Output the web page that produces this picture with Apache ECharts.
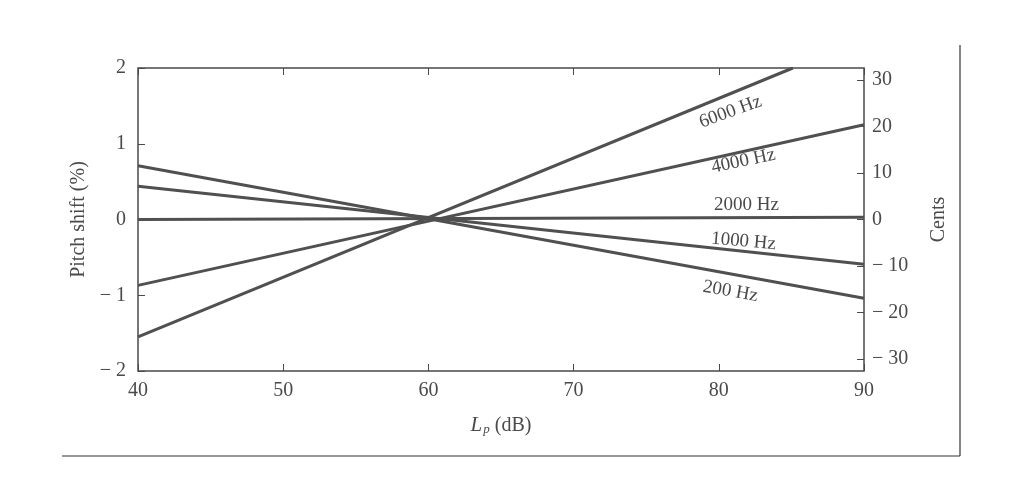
<!DOCTYPE html>
<html><head><meta charset="utf-8">
<script src="https://cdn.jsdelivr.net/npm/echarts@6/dist/echarts.min.js"></script>
<style>html,body{margin:0;background:#fff}#c{width:1024px;height:500px}</style>
</head><body><div id="c"></div>
<script>
const xTicks=[40,50,60,70,80,90];
const yTicks=[-2,-1,0,1,2];
const centTicks=[-30,-20,-10,0,10,20,30];
const line200=[[40,0.71],[90,-1.04]];
const line1000=[[40,0.44],[90,-0.59]];
const line2000=[[40,0.0],[90,0.03]];
const line4000=[[40,-0.87],[90,1.25]];
const line6000=[[40,-1.55],[85.1,2.0]];
const labels=[
 {name:'6000 Hz',coord:[80.8,1.42],rot:20},
 {name:'4000 Hz',coord:[81.7,0.77],rot:12},
 {name:'2000 Hz',coord:[81.9,0.19],rot:0},
 {name:'1000 Hz',coord:[81.7,-0.29],rot:-5},
 {name:'200 Hz',coord:[80.8,-0.95],rot:-10}
];
const C='#4a4a4a',F='Liberation Serif';
const chart=echarts.init(document.getElementById('c'));
const centScale=0.0614; // % per cent
const mk=(d)=>({type:'line',data:d,xAxisIndex:0,yAxisIndex:0,symbol:'none',lineStyle:{color:'#505050',width:3},animation:false});
const s=[line200,line1000,line2000,line4000,line6000].map(mk);
s[0].markPoint={symbol:'circle',symbolSize:0,data:labels.map(l=>({coord:l.coord,label:{show:true,formatter:l.name,rotate:l.rot,color:C,fontFamily:F,fontSize:19}}))};
const tick={inside:true,length:7,lineStyle:{color:C}};
chart.setOption({
 animation:false,
 grid:{left:138,right:160,top:68,bottom:129,show:true,borderColor:C,borderWidth:1.5},
 xAxis:[{type:'value',min:40,max:90,interval:10,position:'bottom',axisLine:{show:false,onZero:false},axisTick:tick,splitLine:{show:false},
   axisLabel:{color:C,fontFamily:F,fontSize:20,margin:10},
   name:'{i|L}{s|p} (dB)',nameLocation:'middle',nameGap:44,nameTextStyle:{color:C,fontFamily:F,fontSize:20,rich:{i:{fontStyle:'italic',fontFamily:F,fontSize:21,color:C},s:{fontStyle:'italic',fontFamily:F,fontSize:13,color:C,verticalAlign:'bottom',padding:[8,0,0,1]}}}},
  {type:'value',min:40,max:90,interval:10,position:'top',axisLine:{show:false,onZero:false},axisTick:tick,axisLabel:{show:false},splitLine:{show:false}}],
 yAxis:[{type:'value',min:-2,max:2,interval:1,axisLine:{show:false,onZero:false},axisTick:tick,splitLine:{show:false},
   axisLabel:{color:C,fontFamily:F,fontSize:20,margin:12,formatter:v=>v<0?'− '+(-v):String(v)},
   name:'Pitch shift (%)',nameLocation:'middle',nameGap:48,nameTextStyle:{color:C,fontFamily:F,fontSize:20}},
  {type:'value',min:-2/centScale,max:2/centScale,position:'right',axisLine:{show:false,onZero:false},
   axisTick:Object.assign({customValues:centTicks},tick),splitLine:{show:false},
   axisLabel:{customValues:centTicks,color:C,fontFamily:F,fontSize:20,margin:8,formatter:v=>v<0?'− '+(-v):String(v)},
   name:'Cents',nameLocation:'middle',nameGap:65,nameRotate:90,nameTextStyle:{color:C,fontFamily:F,fontSize:20}}],
 graphic:[
  {type:'line',shape:{x1:960,y1:45,x2:960,y2:456},style:{stroke:'#333',lineWidth:1.2}},
  {type:'line',shape:{x1:62,y1:456,x2:960,y2:456},style:{stroke:'#333',lineWidth:1.2}}
 ],
 series:s
});
</script></body></html>
